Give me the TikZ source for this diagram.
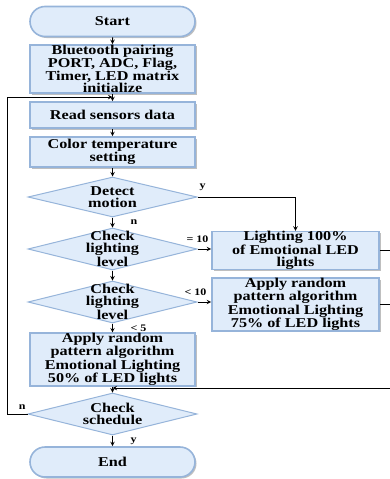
\documentclass[tikz,border=0pt]{standalone}
\usepackage{fontspec}
\setmainfont{Liberation Serif}[FakeStretch=1.2]
\usetikzlibrary{shapes.geometric,shapes.misc,shadows}

\definecolor{boxfill}{RGB}{224,236,250}
\definecolor{boxline}{RGB}{150,180,218}

\tikzset{
  txt/.style={font=\bfseries\fontsize{13.5}{12}\selectfont, align=center},
  block/.style={txt, draw=boxline, fill=boxfill, line width=1.6pt, inner sep=0pt,
    minimum width=165pt,
    drop shadow={shadow xshift=1.5pt, shadow yshift=-1.5pt, fill=black!50}},
  term/.style={block, rounded rectangle, minimum height=30pt},
  decision/.style={diamond, draw=boxline, fill=boxfill, line width=1pt, inner sep=0pt,
    minimum width=169pt, minimum height=42pt},
  dtext/.style={txt, inner sep=0pt},
  lbl/.style={font=\bfseries\fontsize{10}{10}\selectfont, inner sep=1.5pt}
}

\begin{document}
\begin{tikzpicture}[x=1pt, y=-1pt, >=stealth, line width=1pt]
  \useasboundingbox (0,0) rectangle (390,479);
  % Main column
  \node[term] (start) at (112.5,21.5) {Start};
  \node[block, minimum height=46pt] (init) at (112.5,69)
    {Bluetooth pairing\\PORT, ADC, Flag,\\Timer, LED matrix\\initialize};
  \node[block, minimum height=26pt] (read) at (112.5,115) {Read sensors data};
  \node[block, minimum height=30pt] (color) at (112.5,152) {Color temperature\\setting};
  \node[decision, minimum height=40pt, label={[dtext]center:Detect\\motion}] (motion) at (112.5,197) {};
  \node[decision, label={[dtext]center:Check\\lighting\\level}] (level1) at (112.5,249) {};
  \node[decision, label={[dtext]center:Check\\lighting\\level}] (level2) at (112.5,302) {};
  \node[block, minimum height=47pt] (half) at (112.5,359.5)
    {Apply random\\pattern algorithm\\Emotional Lighting\\50\% of LED lights};
  \node[decision, label={[dtext]center:Check\\schedule}] (sched) at (112.5,414) {};
  \node[term] (end) at (112.5,462) {End};
  % Right column
  \node[block, minimum width=167pt, minimum height=35pt] (full) at (295.5,250.5)
    {Lighting 100\%\\of Emotional LED\\lights};
  \node[block, minimum width=167pt, minimum height=45pt] (three) at (295.5,304.5)
    {Apply random\\pattern algorithm\\Emotional Lighting\\75\% of LED lights};
  % Helper points
  \coordinate (loop) at (112.5,97);
  \coordinate (merge) at (394,388);
  % Connectors
  \draw[->] (start) -- (init);
  \draw[->] (init) -- (read);
  \draw[->] (read) -- (color);
  \draw[->] (color) -- (motion);
  \draw[->] (motion) -- node[lbl, right, xshift=16pt] {n} (level1);
  \draw[->] (motion.east) node[lbl, above right, yshift=4pt] {y} -| (full);
  \draw[->] (level1.east) node[lbl, above, yshift=4pt] {= 10} -- (level1.east -| full.west);
  \draw[->] (level1) -- (level2);
  \draw[->] (level2.east) node[lbl, above, yshift=4pt, xshift=-2pt] {< 10} -- (level2.east -| three.west);
  \draw[->] (level2) -- node[lbl, right, xshift=16pt] {< 5} (half);
  \draw[->] (half) -- (sched);
  \draw (full.east) -| (merge);
  \draw (three.east) -| (merge);
  \draw[->] (merge) -- (merge -| sched.north);
  \draw[->] (sched.west) node[lbl, above left, yshift=3pt] {n} -- ++(-20,0) |- (loop);
  \draw[->] (sched) -- node[lbl, right, xshift=16pt] {y} (end);
\end{tikzpicture}
\end{document}
